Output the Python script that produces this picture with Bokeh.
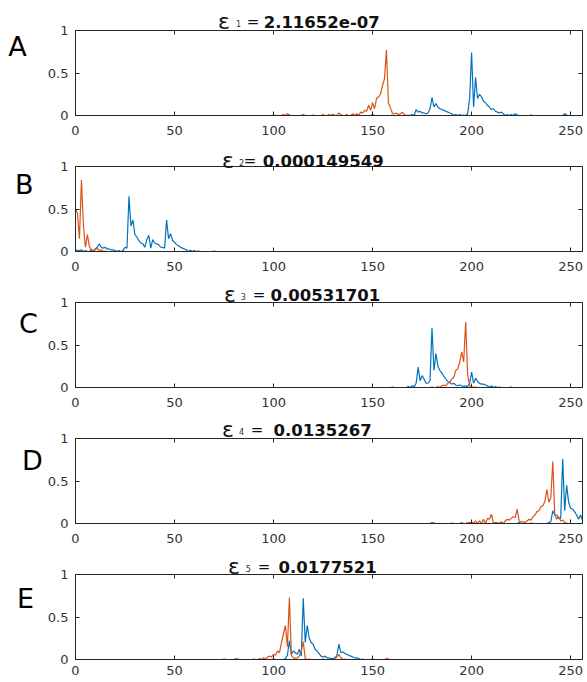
import numpy as np
from bokeh.plotting import figure
from bokeh.models import Range1d, LinearAxis, FixedTicker, Label
from bokeh.embed import file_html
from bokeh.resources import INLINE

# ---------------- data ----------------
x_ticks = [0, 50, 100, 150, 200, 250]
y_ticks = [0, 0.5, 1]
x_limits = (0, 256)
y_limits = (0, 1)
panel_letters = ["A", "B", "C", "D", "E"]
eps_subscripts = ["1", "2", "3", "4", "5"]
eps_values = ["2.11652e-07", "0.000149549", "0.00531701", "0.0135267", "0.0177521"]

# Panel A
A_blue_x = [130, 140, 150, 160, 170, 172, 173, 174, 175, 176, 177, 178, 179, 180, 181, 182, 183, 184, 185,
            186, 187, 188, 189, 190, 192, 194, 196, 198, 199, 200, 201, 202, 203, 204, 205, 206, 207, 208,
            209, 210, 211, 212, 213, 214, 215, 216, 218, 220, 222, 223, 230, 247, 248]
A_blue_y = [0.005, 0.005, 0.01, 0.005, 0.01, 0.07, 0.04, 0.05, 0.03, 0.03, 0.02, 0.03, 0.08, 0.21, 0.1, 0.14,
            0.1, 0.08, 0.07, 0.06, 0.05, 0.04, 0.03, 0.02, 0.01, 0.01, 0.005, 0.02, 0.2, 0.74, 0.1, 0.45, 0.2,
            0.25, 0.22, 0.17, 0.15, 0.12, 0.1, 0.07, 0.08, 0.05, 0.04, 0.03, 0.04, 0.02, 0.01, 0.01, 0.02,
            0.005, 0.005, 0.02, 0.005]
A_orange_x = [100, 105, 107, 108, 115, 120, 125, 128, 130, 133, 134, 137, 140, 142, 144, 145, 146, 147, 148,
              149, 150, 151, 152, 153, 154, 155, 156, 157, 158, 159, 160, 161, 162, 163, 164, 165, 166, 168]
A_orange_y = [0.005, 0.01, 0.02, 0.005, 0.01, 0.005, 0.01, 0.01, 0.015, 0.03, 0.01, 0.01, 0.02, 0.02, 0.04,
              0.03, 0.06, 0.05, 0.12, 0.06, 0.15, 0.08, 0.2, 0.22, 0.25, 0.35, 0.43, 0.77, 0.15, 0.09, 0.03,
              0.02, 0.03, 0.01, 0.02, 0.04, 0.01, 0.005]

# Panel B
B_blue_x = [0, 1, 2, 3, 5, 8, 10, 11, 12, 13, 14, 15, 16, 17, 18, 19, 20, 22, 24, 25, 26, 27, 28, 29, 30, 31,
            32, 33, 34, 35, 36, 37, 38, 39, 40, 41, 42, 43, 44, 45, 46, 47, 48, 49, 50, 51, 52, 53, 54, 55,
            56, 58, 60, 62, 70]
B_blue_y = [0.02, 0.01, 0.01, 0.02, 0.01, 0.02, 0.03, 0.05, 0.09, 0.05, 0.04, 0.05, 0.03, 0.03, 0.02, 0.02,
            0.01, 0.01, 0.01, 0.05, 0.04, 0.65, 0.3, 0.37, 0.2, 0.17, 0.13, 0.1, 0.09, 0.05, 0.14, 0.19, 0.04,
            0.14, 0.1, 0.09, 0.08, 0.05, 0.05, 0.04, 0.37, 0.15, 0.21, 0.13, 0.11, 0.08, 0.07, 0.05, 0.04,
            0.03, 0.02, 0.015, 0.01, 0.005, 0.005]
B_orange_x = [0, 1, 2, 3, 4, 5, 6, 7, 8, 9, 10, 11, 12, 13, 15, 20]
B_orange_y = [0.5, 0.45, 0.15, 0.84, 0.3, 0.05, 0.2, 0.06, 0.02, 0.01, 0.02, 0.04, 0.01, 0.02, 0.005, 0.005]

# Panel C
C_blue_x = [160, 168, 170, 171, 172, 173, 174, 175, 176, 177, 178, 179, 180, 181, 182, 183, 184, 185, 186,
            187, 188, 189, 190, 191, 192, 193, 194, 195, 196, 197, 198, 199, 200, 201, 202, 203, 204, 205,
            206, 207, 208, 210, 212, 214, 220]
C_blue_y = [0.005, 0.01, 0.02, 0.01, 0.05, 0.24, 0.08, 0.14, 0.1, 0.05, 0.05, 0.08, 0.7, 0.2, 0.4, 0.25, 0.2,
            0.17, 0.13, 0.1, 0.07, 0.06, 0.04, 0.05, 0.03, 0.02, 0.03, 0.02, 0.01, 0.02, 0.01, 0.05, 0.18,
            0.05, 0.11, 0.07, 0.05, 0.04, 0.04, 0.03, 0.02, 0.02, 0.01, 0.005, 0.005]
C_orange_x = [180, 183, 185, 186, 187, 188, 189, 190, 191, 192, 193, 194, 195, 196, 197, 198, 199, 200, 202]
C_orange_y = [0.005, 0.01, 0.02, 0.03, 0.02, 0.05, 0.06, 0.1, 0.12, 0.2, 0.22, 0.3, 0.42, 0.3, 0.77, 0.15,
              0.02, 0.01, 0.005]

# Panel D
D_blue_x = [180, 181, 199, 200, 212, 224, 230, 239, 240, 241, 242, 243, 244, 245, 246, 247, 248, 249, 250,
            251, 252, 253, 254, 255, 256]
D_blue_y = [0.01, 0.005, 0.01, 0.005, 0.01, 0.01, 0.005, 0.01, 0.02, 0.15, 0.1, 0.1, 0.06, 0.06, 0.76, 0.15,
            0.45, 0.25, 0.18, 0.17, 0.14, 0.1, 0.05, 0.1, 0.04]
D_orange_x = [180, 190, 195, 198, 200, 202, 204, 206, 208, 209, 210, 211, 213, 215, 217, 218, 219, 220, 221,
              222, 223, 224, 225, 226, 227, 228, 229, 230, 231, 232, 233, 234, 235, 236, 237, 238, 239, 240,
              241, 242, 243, 244, 245, 246, 247, 248]
D_orange_y = [0.005, 0.005, 0.01, 0.01, 0.02, 0.03, 0.03, 0.05, 0.06, 0.05, 0.11, 0.01, 0.01, 0.02, 0.03,
              0.05, 0.04, 0.06, 0.08, 0.07, 0.17, 0.03, 0.02, 0.02, 0.01, 0.03, 0.05, 0.04, 0.08, 0.1, 0.14,
              0.15, 0.2, 0.21, 0.26, 0.4, 0.25, 0.3, 0.73, 0.1, 0.05, 0.08, 0.03, 0.04, 0.01, 0.005]

# Panel E
E_blue_x = [100, 106, 107, 108, 109, 110, 111, 112, 113, 114, 115, 116, 117, 118, 119, 120, 121, 122, 123,
            124, 125, 126, 127, 128, 129, 130, 131, 132, 133, 134, 135, 136, 137, 138, 139, 140, 141, 142,
            143, 145, 150]
E_blue_y = [0.005, 0.01, 0.05, 0.22, 0.06, 0.1, 0.08, 0.06, 0.12, 0.04, 0.72, 0.2, 0.4, 0.25, 0.2, 0.18, 0.12,
            0.1, 0.07, 0.04, 0.03, 0.04, 0.02, 0.02, 0.01, 0.01, 0.02, 0.05, 0.18, 0.08, 0.09, 0.07, 0.06,
            0.05, 0.04, 0.03, 0.02, 0.02, 0.01, 0.005, 0.005]
E_orange_x = [75, 81, 82, 90, 93, 95, 97, 98, 99, 100, 101, 102, 103, 104, 105, 106, 107, 108, 109, 110, 111,
              112, 113, 114, 115, 116, 118, 125, 131, 132, 133, 134, 136, 157, 158]
E_orange_y = [0.005, 0.01, 0.005, 0.005, 0.01, 0.02, 0.03, 0.04, 0.03, 0.06, 0.05, 0.1, 0.08, 0.2, 0.3, 0.4,
              0.15, 0.73, 0.05, 0.02, 0.01, 0.02, 0.04, 0.1, 0.21, 0.01, 0.005, 0.005, 0.01, 0.03, 0.06, 0.02,
              0.005, 0.01, 0.005]

N_POINTS = 257
blue_series = [(A_blue_x, A_blue_y), (B_blue_x, B_blue_y), (C_blue_x, C_blue_y),
               (D_blue_x, D_blue_y), (E_blue_x, E_blue_y)]
orange_series = [(A_orange_x, A_orange_y), (B_orange_x, B_orange_y), (C_orange_x, C_orange_y),
                 (D_orange_x, D_orange_y), (E_orange_x, E_orange_y)]


def dense(xs, ys):
    arr = np.zeros(N_POINTS)
    arr[np.array(xs)] = ys
    return arr


# ---------------- layout / styling ----------------
W, H = 587, 682
BLUE = "#0072BD"
ORANGE = "#D95319"
AX = "#262626"
TICK_FONT = "DejaVu Sans"

# pixel geometry of each panel's axes box (canvas coords, y from top)
FRAME_LEFT, FRAME_RIGHT = 75, 582
PANEL_H = 85
panel_bottoms = [115, 251, 387, 523, 659]
x_label_standoffs = [10, 10, 10, 10, 6]

px_per_x = (FRAME_RIGHT - FRAME_LEFT) / (x_limits[1] - x_limits[0])
x_lo = x_limits[0] - FRAME_LEFT / px_per_x
x_hi = x_lo + W / px_per_x

p = figure(width=W, height=H, output_backend="svg", toolbar_location=None, title=None,
           x_range=Range1d(x_lo, x_hi), y_range=Range1d(0, H),
           x_axis_location=None, y_axis_location=None,
           min_border=0, min_border_left=0, min_border_right=0, min_border_top=0, min_border_bottom=0,
           background_fill_color="white", border_fill_color="white")
p.xgrid.visible = False
p.ygrid.visible = False
p.outline_line_color = None

# title layout (data units): eps x, sub x, "=" x, value x, baseline y
title_pos = [
    (72.0, 81.0, 86.5, 95.0, 1.105),
    (74.0, 82.5, 85.0, 94.5, 1.07),
    (75.0, 83.5, 89.5, 98.5, 1.094),
    (74.0, 82.5, 88.5, 100.0, 1.105),
    (77.0, 86.0, 92.0, 102.5, 1.094),
]
letter_pos = [(-34.0, 0.81), (-30.5, 0.79), (-28.5, 0.75), (-27.0, 0.74), (-29.5, 0.72)]

x_idx = np.arange(N_POINTS)
extra = {}
for i in range(5):
    yb = panel_bottoms[i]
    lo = y_limits[0] - (H - yb) / PANEL_H
    extra[f"p{i}"] = Range1d(lo, lo + H / PANEL_H)
p.extra_y_ranges = extra


def styled_axis(ticks, loc, yname, bounds, labels=True, **kw):
    ax = LinearAxis(ticker=FixedTicker(ticks=ticks), fixed_location=loc, y_range_name=yname,
                    bounds=bounds, axis_line_color=AX, axis_line_width=1,
                    major_tick_line_color=AX, major_tick_in=4, major_tick_out=0,
                    minor_tick_line_color=None,
                    major_label_text_font=TICK_FONT, major_label_text_font_size="13px",
                    major_label_text_color="#333333", **kw)
    if not labels:
        ax.major_label_text_alpha = 0
        ax.major_label_overrides = {t: "" for t in ticks}
    return ax


for i in range(5):
    yn = f"p{i}"
    bottom_ax = styled_axis(x_ticks, y_limits[0], yn, x_limits, major_label_standoff=x_label_standoffs[i])
    left_ax = styled_axis(y_ticks, x_limits[0], yn, y_limits, major_label_standoff=7)
    left_ax.major_label_overrides = {0: "0", 0.5: "0.5", 1: "1"}
    top_ax = styled_axis(x_ticks, y_limits[1], yn, x_limits, labels=False)
    right_ax = styled_axis(y_ticks, x_limits[1], yn, y_limits, labels=False)
    p.add_layout(bottom_ax, "below")
    p.add_layout(left_ax, "left")
    p.add_layout(top_ax, "above")
    p.add_layout(right_ax, "right")

    bx, by = blue_series[i]
    ox, oy = orange_series[i]
    p.line(x_idx, dense(bx, by), line_color=BLUE, line_width=1.2, y_range_name=yn)
    p.line(x_idx, dense(ox, oy), line_color=ORANGE, line_width=1.2, y_range_name=yn)

    ex, sx, qx, vx, ty = title_pos[i]
    p.add_layout(Label(x=ex, y=ty, y_range_name=yn, text="ε", text_font="DejaVu Sans",
                       text_font_size="22px", text_color="#111111", text_baseline="alphabetic"))
    p.add_layout(Label(x=sx, y=ty - 0.025, y_range_name=yn, text=eps_subscripts[i],
                       text_font="DejaVu Sans", text_font_size="8px", text_color="#333333",
                       text_baseline="alphabetic"))
    p.add_layout(Label(x=qx, y=ty, y_range_name=yn, text="=", text_font="DejaVu Sans",
                       text_font_size="15px", text_color="#111111", text_baseline="alphabetic"))
    p.add_layout(Label(x=vx, y=ty, y_range_name=yn, text=eps_values[i], text_font="DejaVu Sans",
                       text_font_size="16.5px", text_font_style="bold", text_color="#111111",
                       text_baseline="alphabetic"))
    lx, ly = letter_pos[i]
    p.add_layout(Label(x=lx, y=ly, y_range_name=yn, text=panel_letters[i], text_font="DejaVu Sans",
                       text_font_size="27px", text_color="#000000", text_baseline="middle"))

open("out.html", "w").write(file_html(p, INLINE))
